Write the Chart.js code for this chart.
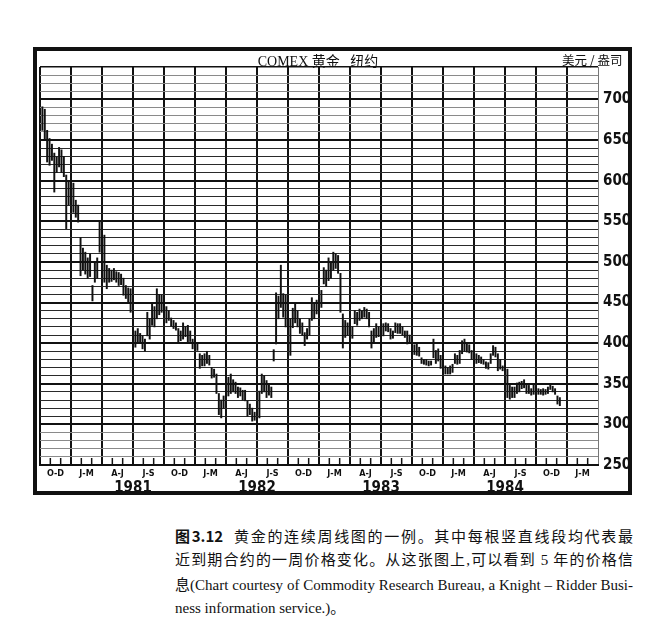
<!DOCTYPE html>
<html>
<head>
<meta charset="utf-8">
<script src="https://cdn.jsdelivr.net/npm/chart.js@4/dist/chart.umd.min.js"></script>
<style>
  body { margin: 0; background: #fff; width: 668px; height: 630px; position: relative; overflow: hidden; }
  #frame { position: absolute; left: 33px; top: 47px; width: 599px; height: 448px; border: 4px solid #111; box-sizing: border-box; }
  #wrap { position: absolute; left: 0; top: 0; width: 668px; height: 505px; }
  #title { position: absolute; left: 218px; width: 200px; top: 50px; text-align: center; font: 14px 'Liberation Serif', 'Noto Sans CJK SC', serif; color: #111; }
  #unit { position: absolute; left: 562px; top: 50px; font: 12.5px 'Noto Sans CJK SC', sans-serif; color: #111; }
  .cap { position: absolute; left: 175px; width: 458px; font: 15px 'Liberation Serif', 'Noto Sans CJK SC', serif; color: #111; line-height: 24px; white-space: nowrap; }
  .just { text-align: justify; text-align-last: justify; white-space: normal; }
</style>
</head>
<body>
<div id="wrap"><canvas id="gold" width="668" height="505"></canvas></div>
<div id="frame"></div>
<div id="title">COMEX 黄金&nbsp;&nbsp;&nbsp;纽约</div>
<div id="unit">美元 / 盎司</div>
<div class="cap just" style="top:524px"><b style="font-family:'Noto Sans CJK SC'">图3.12</b>&nbsp; 黄金的连续周线图的一例。其中每根竖直线段均代表最</div>
<div class="cap just" style="top:548px">近到期合约的一周价格变化。从这张图上,可以看到 5 年的价格信</div>
<div class="cap just" style="top:573px">息(Chart courtesy of Commodity Research Bureau, a Knight – Ridder Busi-</div>
<div class="cap" style="top:596px">ness information service.)。</div>
<script>
// weekly bars, week 1 = first week of Oct 1980 (x axis in months from 1 Oct 1980)
const firstWeek = 1;
const highs = [
  691,688,662,652,645,634,629,641,638,630,
  607,598,609,597,576,570,530,517,512,505,
  510,471,499,505,551,541,533,496,492,490,
  492,488,487,485,480,471,468,467,418,415,
  418,412,409,405,438,430,450,445,467,460,
  459,455,445,440,431,428,425,418,415,425,
  420,422,415,405,402,401,387,385,387,390,
  385,370,368,362,338,330,335,362,358,362,
  355,352,346,345,342,342,329,325,320,315,
  308,341,362,360,354,350,346,392,462,458,
  496,461,459,450,430,443,448,440,430,425,
  413,418,430,456,450,453,458,465,493,490,
  505,500,512,510,508,486,436,428,425,424,
  420,440,438,442,440,444,442,438,415,418,
  424,420,422,424,425,424,418,415,425,424,
  424,420,415,415,410,401,398,399,395,382,
  380,380,378,378,405,391,393,385,382,372,
  370,372,374,387,385,391,403,405,401,398,
  391,390,387,385,383,380,377,376,387,397,
  395,387,380,372,372,368,348,346,346,351,
  352,353,355,349,348,344,349,347,344,343,
  344,343,346,350,347,344,335,333
];
const lows = [
  662,650,623,619,625,586,610,617,610,605,
  541,570,570,561,555,549,483,490,485,480,
  482,452,475,480,512,487,475,467,475,476,
  478,475,471,472,459,455,450,438,393,395,
  401,400,393,390,409,405,422,420,430,435,
  438,438,425,428,421,418,416,401,403,405,
  408,401,402,393,392,391,369,372,372,375,
  373,357,358,338,312,308,320,333,335,338,
  340,338,333,335,330,329,310,312,304,305,
  297,308,338,340,333,336,333,378,399,430,
  444,432,420,415,385,419,425,420,412,410,
  397,405,410,428,430,436,440,444,473,470,
  477,480,490,492,486,438,394,407,410,404,
  406,424,422,428,430,432,430,420,394,400,
  407,408,406,409,415,414,405,406,413,412,
  412,410,407,399,400,387,386,385,384,375,
  374,373,372,373,382,375,378,369,370,362,
  362,362,364,375,374,375,387,390,389,388,
  380,380,375,376,375,374,369,368,375,385,
  383,366,368,366,365,333,331,333,333,338,
  340,344,345,338,338,336,337,338,337,337,
  336,337,338,343,340,337,325,323
];
const quarterLabels = ['O-D','J-M','A-J','J-S','O-D','J-M','A-J','J-S','O-D','J-M','A-J','J-S','O-D','J-M','A-J','J-S','O-D','J-M'];
const yearLabels = ['1981','1982','1983','1984'];
const yearCenters = [9, 21, 33, 45];
const yMin = 250, yMax = 740, xMax = 54;

const narrow = "'Liberation Sans Narrow', 'DejaVu Sans Condensed', sans-serif";

const bars = highs.map((h, i) => ({ x: (i + firstWeek) * 12 / 52, y: [lows[i], h] }));

// small month ticks standing on the bottom line
const monthTicks = {
  id: 'monthTicks',
  afterDraw(chart) {
    const xs = chart.scales.x, ys = chart.scales.y, ctx = chart.ctx;
    const base = ys.getPixelForValue(yMin);
    ctx.save();
    ctx.strokeStyle = '#111';
    ctx.lineWidth = 1.5;
    for (let m = 1; m < xMax; m++) {
      if (m % 3 === 0) continue;
      const px = xs.getPixelForValue(m);
      ctx.beginPath();
      ctx.moveTo(px, base);
      ctx.lineTo(px, base - 7);
      ctx.stroke();
    }
    ctx.restore();
  }
};

new Chart(document.getElementById('gold'), {
  type: 'bar',
  data: {
    datasets: [{
      data: bars,
      backgroundColor: '#111',
      borderWidth: 0,
      barThickness: 1.3,
      grouped: false
    }]
  },
  options: {
    responsive: false,
    animation: false,
    events: [],
    layout: { padding: { left: 40, top: 67, right: 38, bottom: 6 } },
    plugins: { legend: { display: false }, tooltip: { enabled: false } },
    scales: {
      x: {
        type: 'linear', min: 0, max: xMax, offset: false, position: 'bottom', weight: 0,
        afterBuildTicks: s => { s.ticks = quarterLabels.map((q, i) => ({ value: i * 3 })).concat([{ value: xMax }]); },
        grid: { offset: false, drawTicks: false, color: c => c.tick && c.tick.value === xMax ? '#777' : '#111', lineWidth: c => c.tick && c.tick.value === xMax ? 1 : 2 },
        border: { display: true, color: '#111', width: 2 },
        ticks: { display: false },
        afterFit: s => { s.height = 0; s.paddingLeft = 0; s.paddingRight = 0; }
      },
      xq: {
        type: 'linear', min: 0, max: xMax, offset: false, position: 'bottom', weight: 1,
        afterBuildTicks: s => { s.ticks = quarterLabels.map((q, i) => ({ value: i * 3 + 1.5 })); },
        grid: { display: false, drawTicks: false, offset: false },
        border: { display: false },
        ticks: { autoSkip: false, maxRotation: 0, padding: 3, color: '#111',
          font: { family: narrow, size: 9, weight: 'bold' },
          callback: (v, i) => quarterLabels[i] },
        afterFit: s => { s.height = 14; s.paddingLeft = 0; s.paddingRight = 0; }
      },
      xy: {
        type: 'linear', min: 0, max: xMax, offset: false, position: 'bottom', weight: 2,
        afterBuildTicks: s => { s.ticks = yearCenters.map(v => ({ value: v })); },
        grid: { display: false, drawTicks: false, offset: false },
        border: { display: false },
        ticks: { autoSkip: false, maxRotation: 0, padding: 0, color: '#111',
          font: { family: narrow, size: 15, weight: 'bold' },
          callback: (v, i) => yearLabels[i] },
        afterFit: s => { s.height = 20; s.paddingLeft = 0; s.paddingRight = 0; }
      },
      y: {
        position: 'right', min: yMin, max: yMax,
        grid: {
          drawTicks: false,
          color: c => {
            const v = c.tick.value;
            if (v % 50 === 0 || v === yMax) return '#111';
            return (v > 650 || v < 300) ? '#8a8a8a' : '#2a2a2a';
          },
          lineWidth: c => (c.tick.value % 50 === 0 ? 2 : (c.tick.value === yMax ? 1.5 : 1))
        },
        border: { display: false },
        ticks: {
          stepSize: 10, autoSkip: false, padding: 5, color: '#111',
          font: { family: narrow, size: 15, weight: 'bold' },
          callback: v => (v % 50 === 0 && v <= 700 ? String(v) : '')
        },
        afterFit: s => { s.width = 32; s.paddingTop = 0; s.paddingBottom = 0; }
      }
    }
  },
  plugins: [monthTicks]
});
</script>
</body>
</html>
